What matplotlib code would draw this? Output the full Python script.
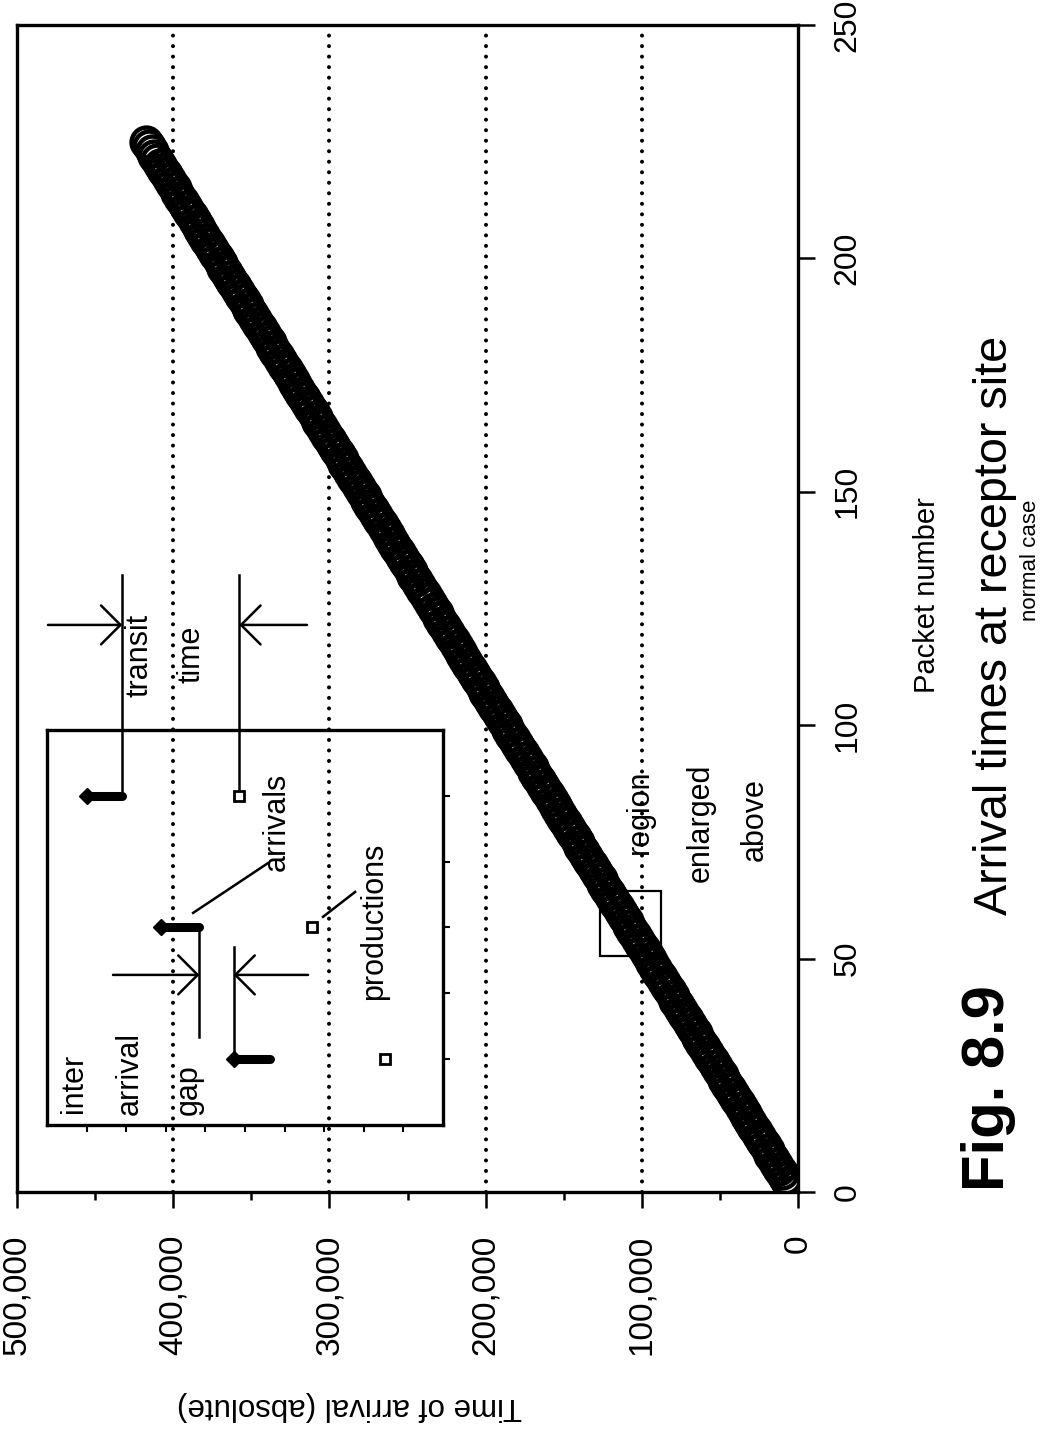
import matplotlib
matplotlib.use("Agg")
import matplotlib.pyplot as plt
from matplotlib import transforms
from matplotlib.ticker import FuncFormatter, MultipleLocator, FixedLocator
from matplotlib.patches import Rectangle

plt.rcParams['font.family'] = ['Liberation Sans', 'DejaVu Sans']

# ---------------------------------------------------------------- data
packet_numbers = list(range(226))
arrival_times = [
    2900, 4743, 6586, 8429, 10272, 12115, 13958, 15801, 17644, 19487,
    21330, 23173, 25016, 26859, 28702, 30545, 32388, 34231, 36074, 37917,
    39760, 41603, 43446, 45289, 47132, 48975, 50818, 52661, 54504, 56347,
    58190, 60033, 61876, 63719, 65562, 67405, 69248, 71091, 72934, 74777,
    76620, 78463, 80306, 82149, 83992, 85835, 87678, 89521, 91364, 93207,
    95050, 96893, 98736, 100579, 102422, 104265, 106108, 107951, 109794, 111637,
    113480, 115323, 117166, 119009, 120852, 122695, 124538, 126381, 128224, 130067,
    131910, 133753, 135596, 137439, 139282, 141125, 142968, 144811, 146654, 148497,
    150340, 152183, 154026, 155869, 157712, 159555, 161398, 163241, 165084, 166927,
    168770, 170613, 172456, 174299, 176142, 177985, 179828, 181671, 183514, 185357,
    187200, 189043, 190886, 192729, 194572, 196415, 198258, 200101, 201944, 203787,
    205630, 207473, 209316, 211159, 213002, 214845, 216688, 218531, 220374, 222217,
    224060, 225903, 227746, 229589, 231432, 233275, 235118, 236961, 238804, 240647,
    242490, 244333, 246176, 248019, 249862, 251705, 253548, 255391, 257234, 259077,
    260920, 262763, 264606, 266449, 268292, 270135, 271978, 273821, 275664, 277507,
    279350, 281193, 283036, 284879, 286722, 288565, 290408, 292251, 294094, 295937,
    297780, 299623, 301466, 303309, 305152, 306995, 308838, 310681, 312524, 314367,
    316210, 318053, 319896, 321739, 323582, 325425, 327268, 329111, 330954, 332797,
    334640, 336483, 338326, 340169, 342012, 343855, 345698, 347541, 349384, 351227,
    353070, 354913, 356756, 358599, 360442, 362285, 364128, 365971, 367814, 369657,
    371500, 373343, 375186, 377029, 378872, 380715, 382558, 384401, 386244, 388087,
    389930, 391773, 393616, 395459, 397302, 399145, 400988, 402831, 404674, 406517,
    408360, 410203, 412046, 413889, 415732, 417575,
]
grid_times = [100000, 200000, 300000, 400000]

# region shown enlarged in the inset
region_time = (88000, 127000)
region_packets = (50.5, 64.5)

zoom_packets = [56, 57, 58]
zoom_production_times = [103208, 105051, 106894]
zoom_arrivals_56 = [106120, 106250, 106380, 106510, 106640, 106770, 106900, 107040]
zoom_arrivals_57 = [107900, 108040, 108180, 108320, 108460, 108600, 108740, 108880]
zoom_arrivals_58 = [109850, 109980, 110110, 110240, 110370, 110500, 110620, 110740]

# ---------------------------------------------------------------- figure
W, H = 1053, 1434
fig = plt.figure(figsize=(W / 100, H / 100), dpi=100)


def px_rect(left, top, right, bottom):
    return [left / W, 1 - bottom / H, (right - left) / W, (bottom - top) / H]


def ftext(x, y, s, **kw):
    kw.setdefault('ha', 'center')
    kw.setdefault('va', 'center')
    kw.setdefault('rotation', 90)
    return fig.text(x / W, 1 - y / H, s, **kw)


# ---------------------------------------------------------------- main axes
ax = fig.add_axes(px_rect(17, 25, 798, 1192))
ax.set_xlim(500000, 0)
ax.set_ylim(0, 250)

for t in grid_times:
    ax.axvline(t, color='black', lw=2.9, linestyle=(0, (0.01, 2.6)),
               dash_capstyle='round', zorder=1)

ax.plot(arrival_times, packet_numbers, linestyle='none', marker='o', ms=21.5,
        mfc='none', mec='black', mew=3.2, zorder=3)

ax.add_patch(Rectangle((region_time[0], region_packets[0]),
                       region_time[1] - region_time[0],
                       region_packets[1] - region_packets[0],
                       fill=False, ec='black', lw=1.6, zorder=4))

ax.xaxis.set_major_locator(MultipleLocator(100000))
ax.xaxis.set_minor_locator(MultipleLocator(50000))
ax.xaxis.set_major_formatter(FuncFormatter(lambda v, p: f"{int(round(v)):,}"))
ax.tick_params(axis='x', which='major', direction='out', length=11.5, width=1.8,
               pad=19, labelsize=24, labelrotation=90)
ax.tick_params(axis='x', which='minor', direction='out', length=5.8, width=1.8)

ax.yaxis.tick_right()
ax.yaxis.set_major_locator(MultipleLocator(50))
ax.tick_params(axis='y', which='major', direction='out', length=12, width=1.8,
               pad=13, labelsize=23, labelrotation=90)
for lab in ax.get_yticklabels():
    lab.set_va('center')

for sp in ax.spines.values():
    sp.set_linewidth(2.4)

# ---------------------------------------------------------------- inset
ins = fig.add_axes(px_rect(47, 730, 443, 1125))
ins.set_facecolor('none')
ins.set_xlim(111750, 101750)
ins.set_ylim(55.5, 58.5)
ins.xaxis.set_major_locator(FixedLocator([102750, 103750, 104750, 105750, 106750,
                                          107750, 108750, 109750, 110750]))
ins.yaxis.set_major_locator(FixedLocator([56, 56.5, 57, 57.5, 58]))
ins.yaxis.tick_right()
ins.tick_params(direction='out', length=5, width=1.5, labelbottom=False,
                labelright=False, labelleft=False)
for sp in ins.spines.values():
    sp.set_linewidth(2.4)

ins.plot(zoom_production_times, zoom_packets, linestyle='none', marker='s', ms=6.5,
         mfc='white', mec='black', mew=2.0, clip_on=False)
for p, samples in zip(zoom_packets, [zoom_arrivals_56, zoom_arrivals_57, zoom_arrivals_58]):
    ins.plot(samples, [p] * len(samples), color='black', lw=6.5,
             solid_capstyle='round', clip_on=False)
    ins.plot(samples, [p] * len(samples), linestyle='none', marker='D', ms=8,
             color='black', markevery=[len(samples) - 1], clip_on=False)

bt = transforms.blended_transform_factory(ins.transData, ins.transAxes)
LW = 1.8


def vline(x, y0, y1):
    ins.plot([x, x], [y0, y1], color='black', lw=LW, transform=bt, clip_on=False)


def arrow(x_tail, x_head, y):
    ins.annotate('', xy=(x_head, y), xycoords=bt, xytext=(x_tail, y), textcoords=bt,
                 arrowprops=dict(arrowstyle='->,head_length=0.7,head_width=0.7',
                                 lw=LW, shrinkA=0, shrinkB=0, mutation_scale=20,
                                 color='black'),
                 annotation_clip=False)


# transit time markers
vline(zoom_arrivals_58[0], 1.392, 0.8333)
vline(zoom_production_times[2], 1.392, 0.85)
arrow(111725, zoom_arrivals_58[0], 1.266)
arrow(105184, zoom_production_times[2], 1.266)

# inter arrival gap markers
vline(zoom_arrivals_57[0], 0.5, 0.223)
vline(zoom_arrivals_56[-1], 0.451, 0.1667)
arrow(110083, zoom_arrivals_57[0], 0.380)
arrow(105159, zoom_arrivals_56[-1], 0.380)

# leader lines
ins.plot([0.369, 0.558], [0.537, 0.663], color='black', lw=LW,
         transform=ins.transAxes, clip_on=False)
ins.plot([0.697, 0.778], [0.527, 0.590], color='black', lw=LW,
         transform=ins.transAxes, clip_on=False)

lab = dict(fontsize=22)
ftext(140, 655, 'transit', **lab)
ftext(191, 654, 'time', **lab)
ftext(74, 1113, 'inter', va='bottom', **lab)
ftext(130, 1115, 'arrival', va='bottom', **lab)
ftext(189, 1115, 'gap', va='bottom', **lab)
ftext(277, 822, 'arrivals', **lab)
ftext(374, 921, 'productions', **lab)

ftext(640, 812, 'region', **lab)
ftext(701, 823, 'enlarged', **lab)
ftext(755, 820, 'above', **lab)

# ---------------------------------------------------------------- titles
ftext(927, 595, 'Packet number', fontsize=21)
ftext(349, 1406, 'Time of arrival (absolute)', fontsize=22.5, rotation=180)
ftext(988, 1088, 'Fig. 8.9', fontsize=43, fontweight='bold')
ftext(995, 625, 'Arrival times at receptor site', fontsize=33.7)
ftext(1031, 560, 'normal case', fontsize=16)

fig.savefig('out.png', dpi=100, facecolor='white')
